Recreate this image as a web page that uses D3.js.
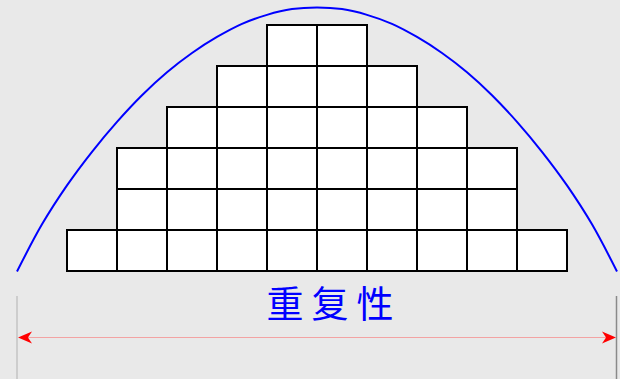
<!DOCTYPE html>
<html><head><meta charset="utf-8">
<script src="https://cdn.jsdelivr.net/npm/d3@7"></script>
<style>html,body{margin:0;padding:0;background:#e9e9e9;}svg{display:block;}</style>
</head><body><svg id="c" width="620" height="379"></svg>
<script>
// Histogram columns (box counts per column)
const columns = [1,2,3,4,5,6,7,8,9,10];
const counts = [1,3,4,5,6,6,5,4,3,1];
// Curve points (x in box-width units, y in box-height units)
const curveX = [0,0.5,1,1.5,2,2.5,3,3.5,4,4.5,5,5.5,6,6.5,7,7.5,8,8.5,9,9.5,10,10.5,11,11.5,12];
const curveY = [0,1.15,2.1,2.92,3.65,4.3,4.86,5.33,5.72,6.04,6.26,6.4,6.44,6.4,6.26,6.04,5.72,5.33,4.86,4.3,3.65,2.92,2.1,1.15,0];
const label = "重复性";

const svg = d3.select("#c");
svg.append("rect").attr("width",620).attr("height",379).attr("fill","#e9e9e9");
const x = d3.scaleLinear().domain([0,12]).range([17,617]);
const y = d3.scaleLinear().domain([0,6]).range([271,25]);

// boxes
const cells = [];
columns.forEach((c,i)=>{ for(let r=0;r<counts[i];r++) cells.push({c:c,r:r}); });
svg.append("g").selectAll("rect").data(cells).join("rect")
  .attr("x",d=>x(d.c)).attr("y",d=>y(d.r+1))
  .attr("width",d=>x(d.c+1)-x(d.c)).attr("height",d=>y(d.r)-y(d.r+1))
  .attr("fill","#fff").attr("stroke","#000").attr("stroke-width",2);

// curve
const pts = curveX.map((v,i)=>[v,curveY[i]]);
svg.append("path").datum(pts)
  .attr("d",d3.line().x(d=>x(d[0])).y(d=>y(d[1])+0.5).curve(d3.curveCatmullRom))
  .attr("fill","none").attr("stroke","#0000ff").attr("stroke-width",2);

// bracket lines
svg.append("line").attr("x1",x(0)).attr("x2",x(0)).attr("y1",296).attr("y2",379)
  .attr("stroke","#cdcdcd").attr("stroke-width",2);
svg.append("line").attr("x1",x(12)-0.5).attr("x2",x(12)-0.5).attr("y1",296).attr("y2",379)
  .attr("stroke","#8a8a8a").attr("stroke-width",1.5);
const ay = 337.5;
svg.append("line").attr("x1",x(0)+2).attr("x2",x(12)-2).attr("y1",ay).attr("y2",ay)
  .attr("stroke","#f3a3a3").attr("stroke-width",1);
// arrowheads
function arrow(tipX, dir){
  const L=14, H=6, notch=4;
  const p = [[tipX,ay],[tipX+dir*L,ay-H],[tipX+dir*(L-notch),ay],[tipX+dir*L,ay+H]];
  svg.append("path").attr("d","M"+p.map(q=>q.join(",")).join("L")+"Z").attr("fill","#ff0000");
}
arrow(x(0)+1,1);
arrow(x(12)-1,-1);

// label
svg.append("text").attr("x",334).attr("y",318).attr("text-anchor","middle")
  .attr("font-family","'Noto Sans CJK SC'").attr("font-size",37)
  .attr("letter-spacing",8).attr("fill","#0000ff").text(label);
</script></body></html>
